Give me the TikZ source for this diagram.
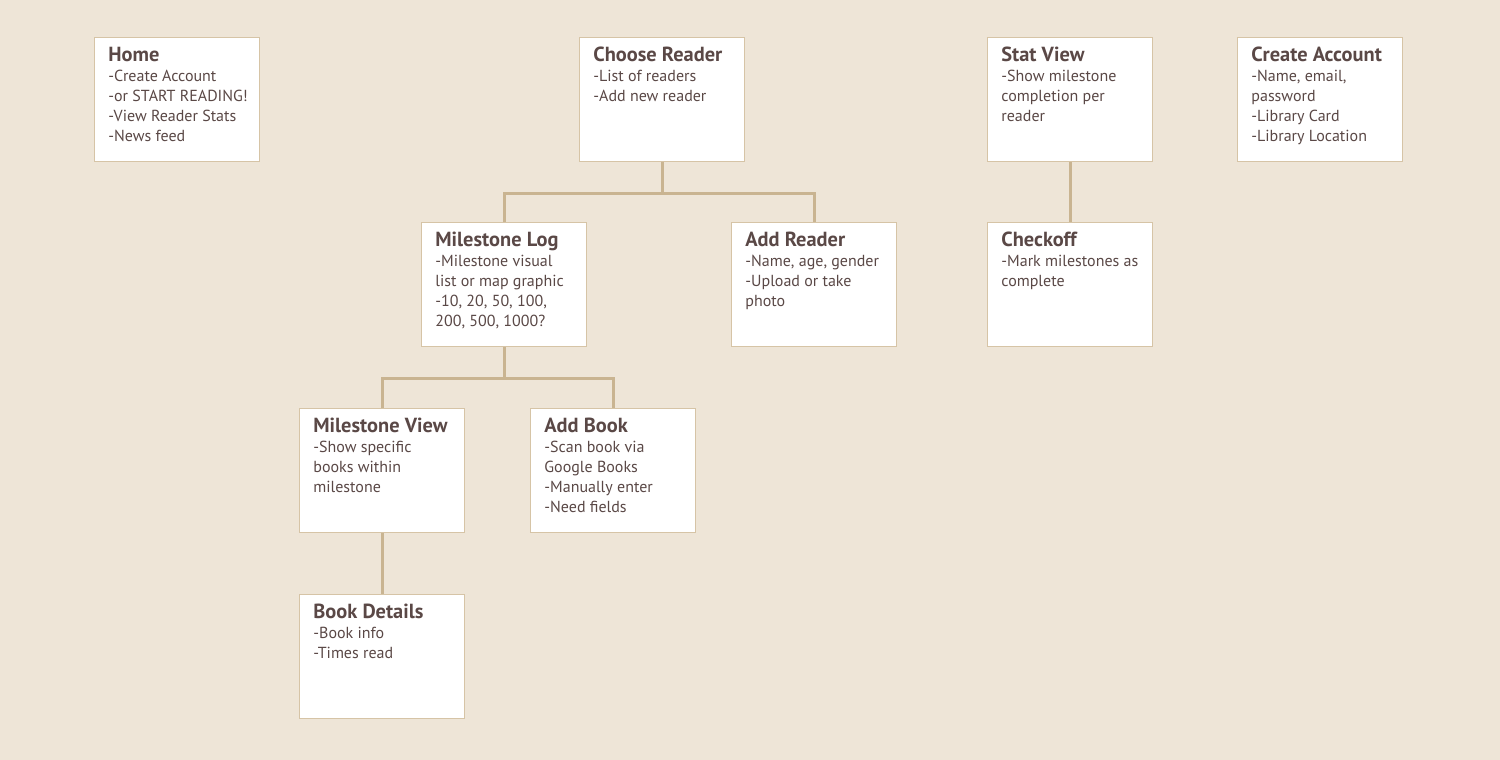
\documentclass[tikz,border=0pt]{standalone}
\usepackage{fontspec}
\setmainfont{PT Sans}
\definecolor{bg}{HTML}{EEE5D7}
\definecolor{linec}{HTML}{C9B491}
\definecolor{boxc}{HTML}{D6C4A6}
\definecolor{txt}{HTML}{5A4846}
\tikzset{
  box/.style={draw=boxc, fill=white, line width=0.7pt, anchor=north west,
    minimum width=82.5pt, minimum height=62pt, inner sep=0pt},
  boxtext/.style={anchor=north west, align=left, inner sep=0pt, text=txt,
    font=\fontsize{8}{10}\selectfont},
  conn/.style={draw=linec, line width=1.5pt},
}
\newcommand{\ttl}[1]{{\rule{0pt}{8pt}\fontsize{10.2}{10}\selectfont\bfseries #1}}
\begin{document}
\begin{tikzpicture}[x=0.5pt,y=-0.5pt]
\fill[bg] (0,0) rectangle (1500,760);
\useasboundingbox (0,0) rectangle (1500,760);
% boxes
\node[box] (home) at (94,37) {};
\node[box] (choose) at (579,37) {};
\node[box] (stat) at (987,37) {};
\node[box] (create) at (1237,37) {};
\node[box] (mlog) at (421,222) {};
\node[box] (addr) at (731,222) {};
\node[box] (check) at (987,222) {};
\node[box] (mview) at (299,408) {};
\node[box] (addb) at (530,408) {};
\node[box] (bdet) at (299,594) {};
% texts
\node[boxtext] (homet) at (108,45) {\ttl{Home}\\-Create Account\\-or START READING!\\-View Reader Stats\\-News feed};
\node[boxtext] (chooset) at (593,45) {\ttl{Choose Reader}\\-List of readers\\-Add new reader};
\node[boxtext] (statt) at (1001,45) {\ttl{Stat View}\\-Show milestone\\completion per\\reader};
\node[boxtext] (createt) at (1251,45) {\ttl{Create Account}\\-Name, email,\\password\\-Library Card\\-Library Location};
\node[boxtext] (mlogt) at (435,230) {\ttl{Milestone Log}\\-Milestone visual\\list or map graphic\\-10, 20, 50, 100,\\200, 500, 1000?};
\node[boxtext] (addrt) at (745,230) {\ttl{Add Reader}\\-Name, age, gender\\-Upload or take\\photo};
\node[boxtext] (checkt) at (1001,230) {\ttl{Checkoff}\\-Mark milestones as\\complete};
\node[boxtext] (mviewt) at (313,416) {\ttl{Milestone View}\\-Show specific\\books within\\milestone};
\node[boxtext] (addbt) at (544,416) {\ttl{Add Book}\\-Scan book via\\Google Books\\-Manually enter\\-Need fields};
\node[boxtext] (bdett) at (313,602) {\ttl{Book Details}\\-Book info\\-Times read};
% connectors
\coordinate (j1) at ([yshift=-15.5pt]choose.south);
\coordinate (j2) at ([yshift=-15.5pt]mlog.south);
\draw[conn] (choose.south) -- (j1);
\draw[conn] (mlog.north) |- (j1) -| (addr.north);
\draw[conn] (mlog.south) -- (j2);
\draw[conn] (mview.north) |- (j2) -| (addb.north);
\draw[conn] (stat.south) -- (check.north);
\draw[conn] (mview.south) -- (bdet.north);
\end{tikzpicture}
\end{document}
